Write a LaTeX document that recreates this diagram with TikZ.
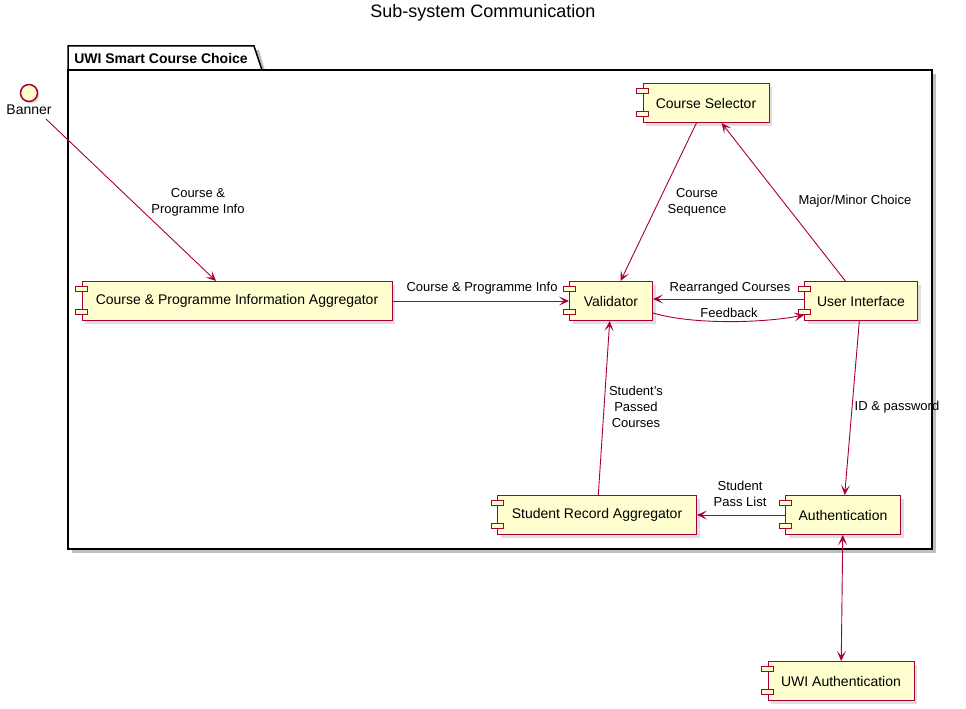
\documentclass[tikz,border=0pt]{standalone}
\usepackage{fontspec}
\setmainfont{Liberation Sans}
\usetikzlibrary{arrows.meta,shadows}
\definecolor{umlred}{HTML}{A80036}
\definecolor{umlfill}{HTML}{FEFECE}
\tikzset{
  comp/.style={draw=umlred, fill=umlfill, line width=1pt, minimum height=39, inner sep=0pt,
    font=\fontsize{14}{16}\selectfont,
    drop shadow={shadow xshift=3pt, shadow yshift=-3pt, opacity=.25}},
  port/.style={draw=umlred, fill=umlfill, line width=1pt},
  flow/.style={umlred, line width=0.9pt, ->},
  lbl/.style={font=\fontsize{13}{16}\selectfont, align=center, inner sep=0pt},
  >={Stealth[length=10pt,width=9pt,inset=5pt]},
}
\newcommand{\compicon}[1]{%
  \draw[port] ([shift={(-6,5)}]#1.north west) rectangle ++(12,5);
  \draw[port] ([shift={(-6,-12)}]#1.south west) rectangle ++(12,5);}
\begin{document}
\begin{tikzpicture}[x=1pt,y=-1pt]
    \useasboundingbox[fill=white] (0,0) rectangle (966,709);
    %Titre
    \node[font=\fontsize{18}{20}\selectfont] (title) at (483,13) {Sub-system Communication};
    %Package
    \fill[black!25] (72,74) rectangle (936,553);
    \fill[black!25] (72,50) -- (259,50) -- (266,74) -- (72,74) -- cycle;
    \draw[line width=1.5pt, fill=white] (68,70) rectangle (932,549);
    \draw[line width=1.5pt, fill=white] (68,70) -- (68,46) -- (254,46) -- (262,70) -- cycle;
    \node[font=\bfseries\fontsize{14}{16}\selectfont] (pkgname) at (161,58) {UWI Smart Course Choice};
    %Interface
    \node[circle, draw=umlred, fill=umlfill, line width=1.5pt, minimum size=17, inner sep=0pt,
      drop shadow={shadow xshift=2pt, shadow yshift=-2pt, opacity=.25}] (banner) at (29,93) {};
    \node[font=\fontsize{14}{16}\selectfont] (bannerlbl) at (29,110) {Banner};
    %Composants
    \node[comp, minimum width=126] (sel) at (706,103) {Course Selector};
    \node[comp, minimum width=310] (agg) at (237,301) {Course \& Programme Information Aggregator};
    \node[comp, minimum width=83] (val) at (611,301) {Validator};
    \node[comp, minimum width=113] (ui) at (861,301) {User Interface};
    \node[comp, minimum width=199] (sra) at (597,515) {Student Record Aggregator};
    \node[comp, minimum width=115] (auth) at (843,515) {Authentication};
    \node[comp, minimum width=146] (uwi) at (841,681) {UWI Authentication};
    \foreach \c in {sel,agg,val,ui,sra,auth,uwi} {\compicon{\c}}
    %Liens
    \coordinate (bannerout) at (46,119);
    \draw[flow] (bannerout) -- (agg);
    \node[lbl] (l1) at (198,202) {Course \&\\Programme Info};
    \draw[flow] (sel) -- (val);
    \node[lbl] (l2) at (697,202) {Course\\Sequence};
    \draw[flow] (ui) -- (sel);
    \node[lbl] (l3) at (855,201) {Major/Minor Choice};
    \draw[flow] (agg) -- (val);
    \node[lbl] (l4) at (482,288) {Course \& Programme Info};
    \draw[flow] ([shift={(0,-2)}]ui.west) -- ([shift={(0,-2)}]val.east);
    \node[lbl] (l5) at (730,288) {Rearranged Courses};
    \draw[flow] ([shift={(0,12)}]val.east) .. controls +(40,12) and +(-40,8) .. ([shift={(0,14)}]ui.west);
    \node[lbl] (l6) at (729,313) {Feedback};
    \draw[flow] (sra) -- (val);
    \node[lbl] (l7) at (636,407) {Student's\\Passed\\Courses};
    \draw[flow] (ui) -- (auth);
    \node[lbl] (l8) at (897,407) {ID \& password};
    \draw[flow] (auth) -- (sra);
    \node[lbl] (l9) at (740,494) {Student\\Pass List};
    \draw[flow, <->] (auth) -- (uwi);
\end{tikzpicture}
\end{document}
